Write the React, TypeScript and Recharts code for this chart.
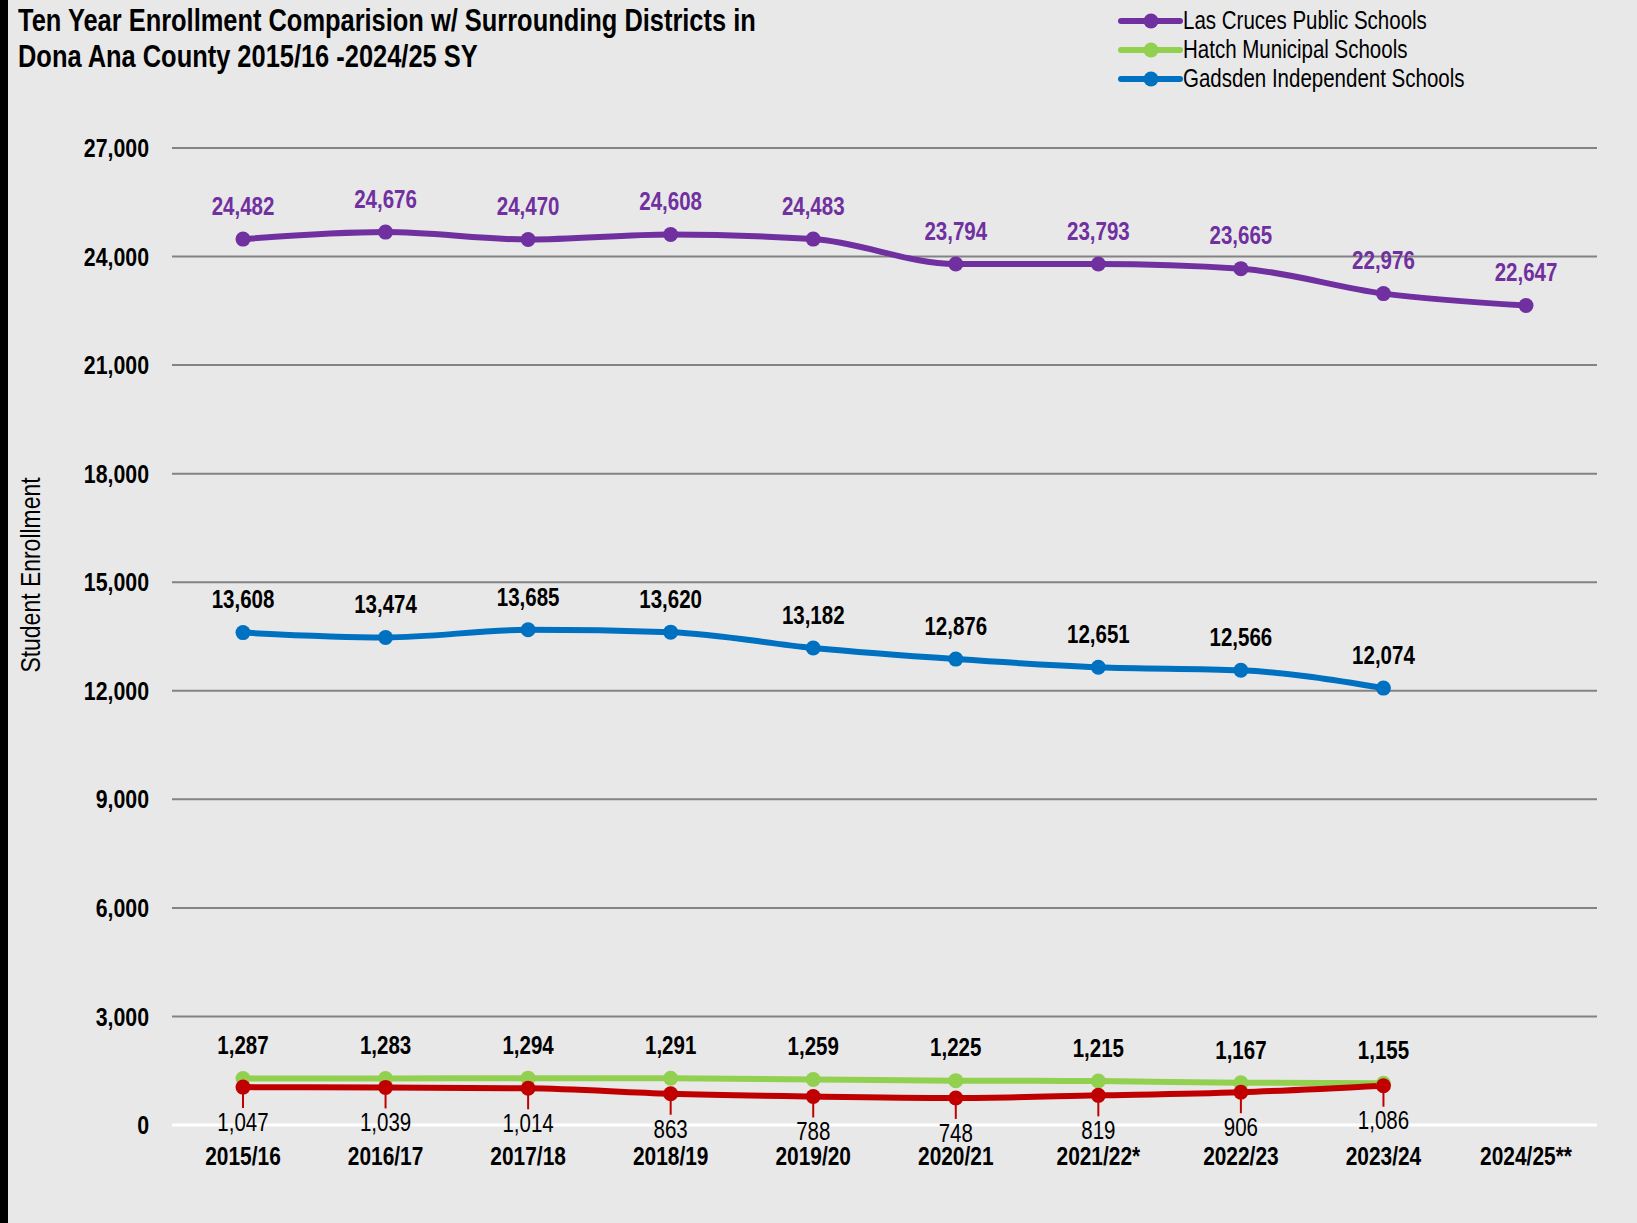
import React from 'react';
import { LineChart, Line, XAxis, YAxis, CartesianGrid, ReferenceLine } from 'recharts';

const categories = ['2015/16', '2016/17', '2017/18', '2018/19', '2019/20', '2020/21', '2021/22*', '2022/23', '2023/24', '2024/25**'];
const lasCruces = [24482, 24676, 24470, 24608, 24483, 23794, 23793, 23665, 22976, 22647];
const gadsden = [13608, 13474, 13685, 13620, 13182, 12876, 12651, 12566, 12074, null];
const hatch = [1287, 1283, 1294, 1291, 1259, 1225, 1215, 1167, 1155, null];
const fourthDistrict = [1047, 1039, 1014, 863, 788, 748, 819, 906, 1086, null];
const yTicks = [0, 3000, 6000, 9000, 12000, 15000, 18000, 21000, 24000, 27000];

const titleLines = ['Ten Year Enrollment Comparision w/ Surrounding Districts in', 'Dona Ana County 2015/16 -2024/25 SY'];
const legendItems = [
  { name: 'Las Cruces Public Schools', color: '#7030A0' },
  { name: 'Hatch Municipal Schools', color: '#92D050' },
  { name: 'Gadsden Independent Schools', color: '#0070C0' },
];

const data = categories.map((cat, i) => ({
  cat,
  lc: lasCruces[i],
  gad: gadsden[i],
  hatch: hatch[i],
  red: fourthDistrict[i],
}));

const FONT = '"Liberation Sans", Arial, sans-serif';
const SX = 0.82;
const fmt = (v: number) => v.toLocaleString('en-US');

const NText = ({ x, y, children, anchor = 'middle', bold = false, size = 25, fill = '#000' }: any) => (
  <g transform={`translate(${x},${y})`}>
    <text x={0} y={0} dy="0.35em" transform={`scale(${SX},1)`} textAnchor={anchor} fill={fill} fontFamily={FONT} fontWeight={bold ? 'bold' : 'normal'} fontSize={size}>
      {children}
    </text>
  </g>
);

const aboveLabel = (color: string) => (props: any) => {
  const { x, y, value } = props;
  if (value == null) return null;
  return (
    <NText x={x} y={y - 33} bold fill={color}>
      {fmt(value)}
    </NText>
  );
};

const belowLabel = (props: any) => {
  const { x, y, value } = props;
  if (value == null) return null;
  return (
    <g>
      <line x1={x} x2={x} y1={y + 6} y2={y + 21} stroke="#C00000" strokeWidth={2} />
      <NText x={x} y={y + 35}>{fmt(value)}</NText>
    </g>
  );
};

const XTick = (props: any) => {
  const { x, y, payload } = props;
  return (
    <NText x={x} y={y + 9} bold size={25.5}>
      {payload.value}
    </NText>
  );
};

const YTick = (props: any) => {
  const { x, y, payload } = props;
  return (
    <NText x={x} y={y} bold anchor="end" size={26}>
      {fmt(payload.value)}
    </NText>
  );
};

const YLabel = () => {
  const cx = 30;
  const cy = 575;
  return (
    <g transform={`translate(${cx},${cy}) rotate(-90)`}>
      <text x={0} y={0} dy="0.35em" transform={`scale(${SX},1)`} textAnchor="middle" fill="#000" fontFamily={FONT} fontSize={28}>
        Student Enrollment
      </text>
    </g>
  );
};

export default function App() {
  return (
    <div style={{ position: 'relative', width: 1637, height: 1223, background: '#e8e8e8', overflow: 'hidden' }}>
      <style>{`body{margin:0}`}</style>
      <div style={{ position: 'absolute', left: 0, top: 0, width: 8, height: 1223, background: '#000' }} />
      <div style={{ position: 'absolute', left: 18, top: 3, fontFamily: FONT, fontWeight: 'bold', fontSize: 31, lineHeight: '36px', color: '#000', transform: `scaleX(${SX})`, transformOrigin: 'left top', whiteSpace: 'nowrap' }}>
        {titleLines.map((t) => (
          <div key={t}>{t}</div>
        ))}
      </div>
      <div style={{ position: 'absolute', left: 1115, top: 6 }}>
        {legendItems.map((it) => (
          <div key={it.name} style={{ display: 'flex', alignItems: 'center', height: 29 }}>
            <svg width={68} height={20} style={{ display: 'block' }}>
              <line x1={6} x2={65} y1={10} y2={10} stroke={it.color} strokeWidth={6} strokeLinecap="round" />
              <circle cx={36} cy={10} r={7.5} fill={it.color} />
            </svg>
            <span style={{ fontFamily: FONT, fontSize: 25, color: '#000', whiteSpace: 'nowrap', display: 'inline-block', transform: `scaleX(${SX})`, transformOrigin: 'left center' }}>{it.name}</span>
          </div>
        ))}
      </div>
      <div style={{ position: 'absolute', left: 0, top: 0 }}>
        <LineChart width={1637} height={1223} data={data} margin={{ top: 148, right: 40, left: 0, bottom: 38 }}>
          <CartesianGrid horizontal vertical={false} stroke="#838383" strokeWidth={2} />
          <XAxis
            dataKey="cat"
            padding={{ left: 71, right: 71 }}
            axisLine={false}
            tickLine={false}
            tickSize={0}
            tickMargin={22}
            height={60}
            interval={0}
            tick={<XTick />}
          />
          <YAxis
            width={172}
            domain={[0, 27000]}
            ticks={yTicks}
            interval={0}
            axisLine={false}
            tickLine={false}
            tickSize={0}
            tickMargin={23}
            tick={<YTick />}
            label={<YLabel />}
          />
          <ReferenceLine y={0} stroke="#ffffff" strokeWidth={3} />
          <Line type="monotone" dataKey="lc" stroke="#7030A0" strokeWidth={6} dot={{ r: 7.5, fill: '#7030A0', stroke: 'none' }} isAnimationActive={false} label={aboveLabel('#7030A0')} />
          <Line type="monotone" dataKey="gad" stroke="#0070C0" strokeWidth={6} dot={{ r: 7.5, fill: '#0070C0', stroke: 'none' }} isAnimationActive={false} label={aboveLabel('#000')} />
          <Line type="monotone" dataKey="hatch" stroke="#92D050" strokeWidth={6} dot={{ r: 7.5, fill: '#92D050', stroke: 'none' }} isAnimationActive={false} label={aboveLabel('#000')} />
          <Line type="monotone" dataKey="red" stroke="#C00000" strokeWidth={6} dot={{ r: 7.5, fill: '#C00000', stroke: 'none' }} isAnimationActive={false} label={belowLabel} />
        </LineChart>
      </div>
    </div>
  );
}
